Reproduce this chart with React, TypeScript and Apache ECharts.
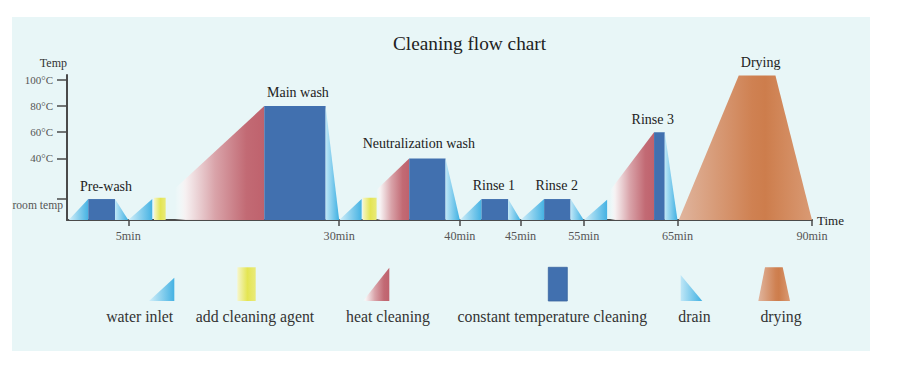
import React, { useEffect, useRef } from 'react';
import * as echarts from 'echarts';

// ---------- data (schematic units: x = position along time axis, y = temperature scale) ----------
const ROOM = 9;
const BASE = -7;
const Y_MAX = 103.7;
const TOP = 103.4;
const X_MIN = 0;
const X_MAX = 90;

const timeTickPos = [7.4, 32.88, 47.46, 54.79, 62.43, 73.75, 90];
const timeTickLabels = ['5min', '30min', '40min', '45min', '55min', '65min', '90min'];
const tempTickVals = [ROOM, 40, 60, 80, 100];
const tempTickLabels = ['room temp', '40°C', '60°C', '80°C', '100°C'];

// [start, end, top temp]
const inletSteps = [
  [0.2, 2.57, ROOM], [7.4, 10.3, ROOM], [32.88, 35.59, ROOM],
  [47.46, 50.08, ROOM], [54.79, 57.64, ROOM], [62.43, 65.25, 8.5],
];
const agentSteps = [[10.51, 11.92, 10], [35.71, 37.4, 10]];
// [start, end, temp at start, temp at end]
const heatSteps = [[13.04, 23.83, 17, 80], [37.4, 41.34, 16, 40], [65.6, 70.92, 15.5, 60]];
const constantSteps = [
  [2.57, 5.8, ROOM], [23.83, 31.24, 80], [41.34, 45.73, 40],
  [50.08, 53.29, ROOM], [57.64, 60.83, ROOM], [70.92, 72.21, 60],
];
const drainSteps = [
  [5.8, 7.4, ROOM], [31.24, 32.88, 80], [45.73, 47.46, 40],
  [53.29, 54.79, ROOM], [60.83, 62.43, ROOM], [72.21, 73.75, 60],
];
// [bottom-left, top-left, top-right, bottom-right, top temp]
const dryingSteps = [[73.9, 81.15, 85.58, 90, TOP]];

const stageNames = ['Pre-wash', 'Main wash', 'Neutralization wash', 'Rinse 1', 'Rinse 2', 'Rinse 3', 'Drying'];
const stageLabelX = [4.71, 27.9, 42.5, 51.57, 59.17, 70.76, 83.8];
const stageLabelY = [18.5, 90, 51.7, 19, 19, 70, 113.5];

const legendNames = ['water inlet', 'add cleaning agent', 'heat cleaning', 'constant temperature cleaning', 'drain', 'drying'];

// ---------- styles ----------
const FONT = '"Liberation Serif", "DejaVu Serif", serif';
const lg = (stops: [number, string][]) =>
  new echarts.graphic.LinearGradient(0, 0, 1, 0, stops.map(([offset, color]) => ({ offset, color })));
const inletFill = () => lg([[0, '#d2eff9'], [1, '#45b2e3']]);
const drainFill = () => lg([[0, '#bfe7f7'], [1, '#3fb0e2']]);
const agentFill = () => lg([[0, '#f6f6cc'], [0.55, '#e4e553'], [1, '#e9ea7a']]);
const heatFill = () => lg([[0, 'rgba(255,255,255,0)'], [0.12, 'rgba(247,240,241,0.95)'], [0.45, '#d9a3a9'], [0.8, '#c26a74'], [1, '#bf626d']]);
const CONST_COLOR = '#4170af';
const dryFill = () => lg([[0, '#e0b59e'], [0.55, '#cf8152'], [0.65, '#cd7d4c'], [1, '#d99a74']]);

export default function App() {
  const ref = useRef<HTMLDivElement>(null);
  useEffect(() => {
    if (!ref.current) return;
    const chart = echarts.init(ref.current, undefined, { renderer: 'svg' });

    const poly = (pts: number[][], fill: any) => ({ type: 'polygon', shape: { points: pts }, style: { fill } });

    const legendLabelX = [139.7, 255, 388, 552.3, 694.5, 781];
    const legendIcons: any[] = [
      { type: 'polygon', shape: { points: [[149, 301], [174.3, 277.7], [174.3, 301]] }, style: { fill: inletFill() } },
      { type: 'rect', shape: { x: 237.3, y: 267.3, width: 18.4, height: 33.7 }, style: { fill: agentFill() } },
      { type: 'polygon', shape: { points: [[363, 301], [389.3, 267.7], [389.3, 301]] }, style: { fill: heatFill() } },
      { type: 'rect', shape: { x: 548.3, y: 267.3, width: 19, height: 33.7 }, style: { fill: CONST_COLOR, stroke: '#3a64a0', lineWidth: 0.8 } },
      { type: 'polygon', shape: { points: [[680.7, 275], [702.3, 301], [680.7, 301]] }, style: { fill: drainFill() } },
      { type: 'polygon', shape: { points: [[758.3, 301], [765, 267.3], [782.7, 267.3], [790, 301]] }, style: { fill: dryFill() } },
    ];
    const legendTexts = legendNames.map((n, i) => ({
      type: 'text', x: legendLabelX[i], y: 316,
      style: { text: n, fontSize: 15.8, fontFamily: FONT, fill: '#333', align: 'center', verticalAlign: 'middle' },
    }));

    const option: any = {
      animation: false,
      backgroundColor: '#ffffff',
      title: {
        text: 'Cleaning flow chart', left: 393, top: 34, padding: 0,
        textStyle: { fontSize: 19.3, fontWeight: 'normal', color: '#222', fontFamily: FONT },
      },
      graphic: [
        { type: 'rect', z: -10, silent: true, shape: { x: 12, y: 17, width: 858, height: 334 }, style: { fill: '#e8f6f7' } },
        ...legendIcons,
        ...legendTexts,
      ],
      grid: { left: 67, right: 88, top: 75, bottom: 151, containLabel: false },
      xAxis: {
        type: 'value', min: X_MIN, max: X_MAX,
        name: 'Time', nameLocation: 'end', nameGap: 5,
        nameTextStyle: { fontSize: 13, color: '#222', fontFamily: FONT },
        axisLine: { show: true, onZero: false, lineStyle: { color: '#4a4a4a', width: 2 } },
        axisTick: { show: true, customValues: timeTickPos, length: 6, lineStyle: { color: '#4a4a4a', width: 1.5 } },
        axisLabel: {
          customValues: timeTickPos, margin: 10, fontSize: 12.2, color: '#555', fontFamily: FONT,
          formatter: (v: number) => {
            let best = 0;
            timeTickPos.forEach((p, i) => { if (Math.abs(p - v) < Math.abs(timeTickPos[best] - v)) best = i; });
            return timeTickLabels[best];
          },
        },
        splitLine: { show: false },
      },
      yAxis: {
        type: 'value', min: BASE, max: Y_MAX,
        name: 'Temp', nameLocation: 'end', nameGap: 6,
        nameTextStyle: { fontSize: 12, color: '#333', fontFamily: FONT, align: 'right' },
        axisLine: { show: true, onZero: false, lineStyle: { color: '#4a4a4a', width: 2 } },
        axisTick: { show: true, customValues: tempTickVals, length: 10, lineStyle: { color: '#4a4a4a', width: 1.5 } },
        axisLabel: {
          customValues: tempTickVals.slice(1), margin: 14, fontSize: 11, color: '#555', fontFamily: FONT,
          formatter: (v: number) => {
            const i = tempTickVals.findIndex((t) => Math.abs(t - v) < 0.01);
            return i > 0 ? tempTickLabels[i] : '';
          },
        },
        splitLine: { show: false },
      },
      series: [
        {
          type: 'custom', name: 'water inlet', data: inletSteps,
          renderItem: (p: any, api: any) =>
            poly([api.coord([api.value(0), BASE]), api.coord([api.value(1), api.value(2)]), api.coord([api.value(1), BASE])], inletFill()),
        },
        {
          type: 'custom', name: 'add cleaning agent', data: agentSteps,
          renderItem: (p: any, api: any) =>
            poly([
              api.coord([api.value(0), BASE]), api.coord([api.value(0), api.value(2)]),
              api.coord([api.value(1), api.value(2)]), api.coord([api.value(1), BASE]),
            ], agentFill()),
        },
        {
          type: 'custom', name: 'heat cleaning', data: heatSteps,
          renderItem: (p: any, api: any) =>
            poly([
              api.coord([api.value(0), BASE]), api.coord([api.value(0), api.value(2)]),
              api.coord([api.value(1), api.value(3)]), api.coord([api.value(1), BASE]),
            ], heatFill()),
        },
        {
          type: 'custom', name: 'constant temperature cleaning', data: constantSteps,
          renderItem: (p: any, api: any) =>
            poly([
              api.coord([api.value(0), BASE]), api.coord([api.value(0), api.value(2)]),
              api.coord([api.value(1), api.value(2)]), api.coord([api.value(1), BASE]),
            ], CONST_COLOR),
        },
        {
          type: 'custom', name: 'drain', data: drainSteps,
          renderItem: (p: any, api: any) =>
            poly([api.coord([api.value(0), api.value(2)]), api.coord([api.value(1), BASE]), api.coord([api.value(0), BASE])], drainFill()),
        },
        {
          type: 'custom', name: 'drying', data: dryingSteps,
          renderItem: (p: any, api: any) =>
            poly([
              api.coord([api.value(0), BASE]), api.coord([api.value(1), api.value(4)]),
              api.coord([api.value(2), api.value(4)]), api.coord([api.value(3), BASE]),
            ], dryFill()),
        },
        {
          type: 'custom', name: 'stage labels', z: 5,
          data: stageNames.map((n, i) => ({ name: n, value: [stageLabelX[i], stageLabelY[i]] })),
          renderItem: (p: any, api: any) => {
            const c = api.coord([api.value(0), api.value(1)]);
            return {
              type: 'text', x: c[0], y: c[1],
              style: { text: stageNames[p.dataIndex], fontSize: 14, fontFamily: FONT, fill: '#222', align: 'center', verticalAlign: 'middle' },
            };
          },
        },
        {
          type: 'custom', name: 'room label', z: 5,
          data: [[X_MIN, ROOM]],
          renderItem: (p: any, api: any) => {
            const c = api.coord([api.value(0), api.value(1)]);
            return {
              type: 'text', x: c[0] - 4, y: c[1] + 6.5,
              style: { text: tempTickLabels[0], fontSize: 11.6, fontFamily: FONT, fill: '#555', align: 'right', verticalAlign: 'middle' },
            };
          },
        },
      ],
    };
    chart.setOption(option);
    return () => chart.dispose();
  }, []);
  return <div ref={ref} style={{ position: 'fixed', left: 0, top: 0, width: 900, height: 371 }} />;
}
